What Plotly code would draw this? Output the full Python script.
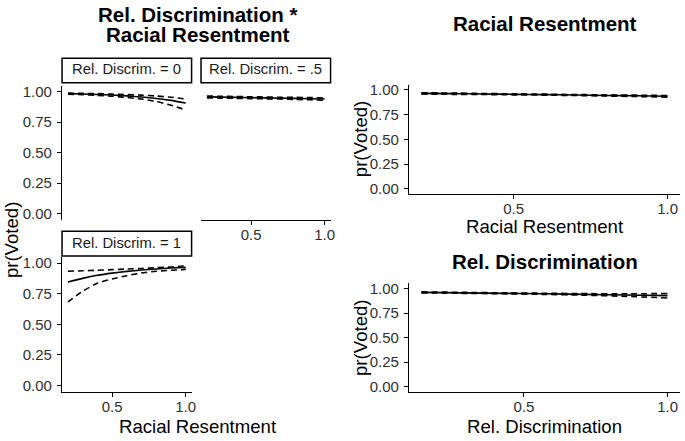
import plotly.graph_objects as go

W, H = 685, 441

# ---------------- data ----------------
rr_x = [0.2, 0.3, 0.4, 0.5, 0.6, 0.7, 0.8, 0.9, 1.0]

# Interaction panels (x = Racial Resentment)
rd0_fit = [0.985, 0.982, 0.978, 0.973, 0.966, 0.957, 0.945, 0.929, 0.907]
rd0_hi = [0.989, 0.987, 0.985, 0.981, 0.977, 0.972, 0.965, 0.955, 0.940]
rd0_lo = [0.980, 0.976, 0.970, 0.963, 0.953, 0.940, 0.920, 0.890, 0.850]

rd5_fit = [0.958, 0.956, 0.954, 0.952, 0.950, 0.948, 0.946, 0.943, 0.940]
rd5_hi = [0.965, 0.963, 0.961, 0.959, 0.957, 0.955, 0.954, 0.952, 0.950]
rd5_lo = [0.950, 0.948, 0.946, 0.944, 0.942, 0.940, 0.937, 0.934, 0.930]

rd1_fit = [0.845, 0.875, 0.900, 0.918, 0.932, 0.943, 0.952, 0.959, 0.965]
rd1_hi = [0.933, 0.937, 0.941, 0.946, 0.951, 0.956, 0.962, 0.968, 0.977]
rd1_lo = [0.683, 0.770, 0.835, 0.870, 0.897, 0.920, 0.933, 0.941, 0.948]

# Main effect: Racial Resentment
rr_fit = [0.963, 0.960, 0.957, 0.953, 0.950, 0.946, 0.942, 0.938, 0.933]
rr_hi = [0.969, 0.966, 0.962, 0.958, 0.955, 0.951, 0.948, 0.945, 0.941]
rr_lo = [0.956, 0.953, 0.951, 0.948, 0.945, 0.941, 0.936, 0.931, 0.925]

# Main effect: Rel. Discrimination
rd_x = [0.143, 0.286, 0.429, 0.571, 0.714, 0.857, 1.0]
rd_fit = [0.960, 0.955, 0.950, 0.945, 0.939, 0.933, 0.927]
rd_hi = [0.965, 0.960, 0.955, 0.951, 0.947, 0.945, 0.948]
rd_lo = [0.955, 0.950, 0.945, 0.939, 0.931, 0.919, 0.903]

strip_labels = ["Rel. Discrim. = 0", "Rel. Discrim. = .5", "Rel. Discrim. = 1"]
y_ticks = [0, 0.25, 0.5, 0.75, 1.0]
x_ticks = [0.5, 1.0]

FONT = "Liberation Sans, Arial, sans-serif"
TICKCOL = "#303030"


def fx(p):
    return p / W


def fy(p):
    return 1 - p / H


fig = go.Figure()

panels = [
    ("x", "y", rr_x, rd0_fit, rd0_hi, rd0_lo),
    ("x2", "y2", rr_x, rd5_fit, rd5_hi, rd5_lo),
    ("x3", "y3", rr_x, rd1_fit, rd1_hi, rd1_lo),
    ("x4", "y4", rr_x, rr_fit, rr_hi, rr_lo),
    ("x5", "y5", rd_x, rd_fit, rd_hi, rd_lo),
]

for xa, ya, xs, fit, hi, lo in panels:
    for ys, dash in [(hi, "6px,4px"), (lo, "6px,4px"), (fit, "solid")]:
        fig.add_trace(go.Scatter(
            x=xs, y=ys, xaxis=xa, yaxis=ya, mode="lines",
            line=dict(color="black", width=1.6, dash=dash, shape="spline", smoothing=0.6),
            showlegend=False, hoverinfo="skip"))

base_axis = dict(showgrid=False, zeroline=False, showline=True, linecolor="black",
                 linewidth=1.3, ticks="outside", ticklen=4, tickwidth=1.3,
                 tickcolor="black", tickfont=dict(family=FONT, size=15, color=TICKCOL))
x_axis = dict(base_axis, tickvals=x_ticks, tickformat=".1f", ticklabelstandoff=-3)
y_axis = dict(base_axis, tickvals=y_ticks, tickformat=".2f", ticklabelstandoff=2)

xr_rr = [0.16, 1.04]
xr_rd = [0.0999, 1.043]
yr = [-0.05, 1.05]

layout = dict(
    width=W, height=H, margin=dict(l=0, r=0, t=0, b=0),
    paper_bgcolor="white", plot_bgcolor="white", showlegend=False,
    font=dict(family=FONT, color="black"),
)

layout["xaxis"] = dict(domain=[fx(62.5), fx(193)], range=xr_rr, anchor="y", visible=False)
layout["yaxis"] = dict(y_axis, domain=[fy(219), fy(83)], range=yr, anchor="x")
layout["xaxis2"] = dict(x_axis, domain=[fx(202.5), fx(333)], range=xr_rr, anchor="y2")
layout["yaxis2"] = dict(domain=[fy(219), fy(83)], range=yr, anchor="x2", visible=False)
layout["xaxis3"] = dict(x_axis, domain=[fx(62.5), fx(193)], range=xr_rr, anchor="y3")
layout["yaxis3"] = dict(y_axis, domain=[fy(394), fy(257)], range=yr, anchor="x3")
layout["xaxis4"] = dict(x_axis, domain=[fx(412), fx(685)], range=xr_rr, anchor="y4")
layout["yaxis4"] = dict(y_axis, domain=[fy(193), fy(82)], range=yr, anchor="x4")
layout["xaxis5"] = dict(x_axis, domain=[fx(412), fx(685)], range=xr_rd, anchor="y5")
layout["yaxis5"] = dict(y_axis, domain=[fy(394), fy(284)], range=yr, anchor="x5")

fig.update_layout(**layout)

strips = [(62.5, 193, 55, 80), (202.5, 333, 55, 80), (62.5, 193, 231, 256)]
for (x0, x1, y0, y1), lab in zip(strips, strip_labels):
    fig.add_shape(type="rect", xref="paper", yref="paper",
                  x0=fx(x0), x1=fx(x1), y0=fy(y1), y1=fy(y0),
                  line=dict(color="black", width=1.5), fillcolor="white")
    fig.add_annotation(xref="paper", yref="paper", x=fx((x0 + x1) / 2), y=fy((y0 + y1) / 2 - 1),
                       text=lab, showarrow=False, xanchor="center", yanchor="middle",
                       font=dict(family=FONT, size=14.8, color="#1a1a1a"))


def ann(text, x, y, size, bold=False, angle=0):
    fig.add_annotation(xref="paper", yref="paper", x=fx(x), y=fy(y),
                       text=f"<b>{text}</b>" if bold else text, showarrow=False,
                       xanchor="center", yanchor="middle", textangle=angle,
                       font=dict(family=FONT, size=size, color="black"))


ann("Rel. Discrimination *", 199, 10.5, 20.5, bold=True)
ann("Racial Resentment", 199, 31.5, 20.5, bold=True)
ann("Racial Resentment", 549, 20, 20.5, bold=True)
ann("Rel. Discrimination", 549, 261.5, 20.5, bold=True)

ann("Racial Resentment", 199, 429, 18.6)
ann("pr(Voted)", 11, 240, 18.6, angle=-90)
ann("Racial Resentment", 549, 226, 18.6)
ann("pr(Voted)", 363, 137, 18.6, angle=-90)
ann("Rel. Discrimination", 549, 429, 18.6)
ann("pr(Voted)", 363, 339, 18.6, angle=-90)

fig.write_html("out.html", config={"displayModeBar": False},
               post_script="document.body.style.margin='0';document.body.style.overflow='hidden';")
